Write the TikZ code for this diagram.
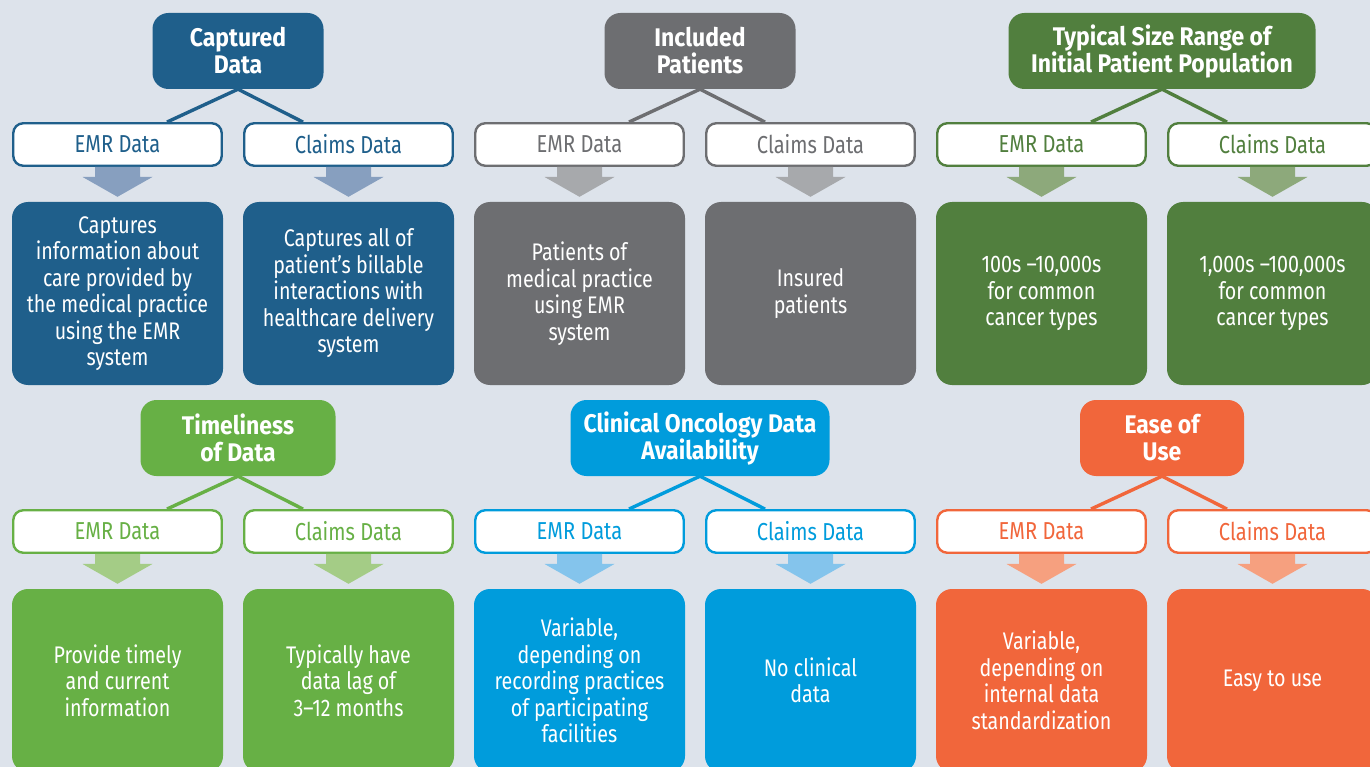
\documentclass[tikz,border=0pt]{standalone}
\usepackage{fontspec}
\setmainfont{Fira Sans}[FakeStretch=0.82]
\newfontfamily\headFont{Fira Sans}[FakeStretch=0.9]
\usetikzlibrary{calc}
\definecolor{paper}{HTML}{DDE3EB}
\definecolor{capDark}{HTML}{1F5F8B}
\definecolor{capLight}{HTML}{879FBF}
\definecolor{incDark}{HTML}{6D6E71}
\definecolor{incLight}{HTML}{A7A9AC}
\definecolor{sizeDark}{HTML}{517F3E}
\definecolor{sizeLight}{HTML}{8DA97B}
\definecolor{timeDark}{HTML}{67B045}
\definecolor{timeLight}{HTML}{A4CC86}
\definecolor{oncDark}{HTML}{009CDC}
\definecolor{oncLight}{HTML}{84C4EC}
\definecolor{easeDark}{HTML}{F1663B}
\definecolor{easeLight}{HTML}{F6A07F}
%% Block arrow from a label box down to its content box.
\newcommand{\myArrow}[3]{%%
  \fill[#3] ($(#1.south)+(-22.5,0)$) -- ($(#1.south)+(-22.5,10)$)
  -- ($(#1.south)+(-35,10)$) -- ($(#2.north)+(0,-5)$)
  -- ($(#1.south)+(35,10)$) -- ($(#1.south)+(22.5,10)$)
  -- ($(#1.south)+(22.5,0)$) -- cycle;
}
%% One group: header, two data labels, two arrows, two content boxes.
\newcommand{\myGroup}[7]{%%
  %% Header box.
  \node[headStyle, fill=#1Dark, minimum width=#4] (#1Head) at (#2+226,#3+38) {#5};
  %% Data source labels.
  \node[labelStyle, draw=#1Dark, text=#1Dark] (#1Emr) at (#2+105.5,#3+131.5) {EMR Data};
  \node[labelStyle, draw=#1Dark, text=#1Dark] (#1Clm) at (#2+336.5,#3+131.5) {Claims Data};
  %% Content boxes.
  \node[infoStyle, fill=#1Dark] (#1EmrInfo) at (#2+105.5,#3+280.5) {#6};
  \node[infoStyle, fill=#1Dark] (#1ClmInfo) at (#2+336.5,#3+280.5) {#7};
  %% Connect the header to the labels.
  \draw[lineStyle, #1Dark] (#1Head.south) -- ([xshift=49.5pt]#1Emr.north);
  \draw[lineStyle, #1Dark] (#1Head.south) -- ([xshift=-45.5pt]#1Clm.north);
  %% Arrows down to the content.
  \myArrow{#1Emr}{#1EmrInfo}{#1Light}
  \myArrow{#1Clm}{#1ClmInfo}{#1Light}
}

\begin{document}
\begin{tikzpicture}[x=1pt,y=-1pt,%%
  lineStyle/.style={-,line width=3.4pt},%%
  headStyle/.style={rounded corners=16pt,minimum height=76pt,inner sep=0pt,
    align=center,text=white,font=\headFont\bfseries\fontsize{25.5}{27}\selectfont},%%
  labelStyle/.style={rounded corners=10pt,fill=white,line width=2.4pt,
    minimum width=208.5pt,minimum height=42.5pt,inner sep=0pt,
    font=\fontsize{24.5}{26.5}\selectfont},%%
  infoStyle/.style={rounded corners=16pt,minimum width=211pt,minimum height=183pt,
    inner sep=0pt,align=center,text=white,font=\fontsize{24}{26.5}\selectfont}
]
%%
%%
\pgfmathsetmacro{\rowTop}{13}
\pgfmathsetmacro{\rowBottom}{400}
\fill[paper] (0,0) rectangle (1370,767);
\useasboundingbox (0,0) rectangle (1370,767);
\clip (0,0) rectangle (1370,767);
%%
%% Top row.
\myGroup{cap}{12}{\rowTop}{171}{Captured\\Data}%%
  {Captures\\information about\\care provided by\\the medical practice\\using the EMR\\system}%%
  {Captures all of\\patient’s billable\\interactions with\\healthcare delivery\\system}
\myGroup{inc}{474}{\rowTop}{191}{Included\\Patients}%%
  {Patients of\\medical practice\\using EMR\\system}%%
  {Insured\\patients}
\myGroup{size}{936}{\rowTop}{307}{Typical Size Range of\\Initial Patient Population}%%
  {100s –10,000s\\for common\\cancer types}%%
  {1,000s –100,000s\\for common\\cancer types}
%%
%% Bottom row.
\myGroup{time}{12}{\rowBottom}{195}{Timeliness\\of Data}%%
  {Provide timely\\and current\\information}%%
  {Typically have\\data lag of\\3–12 months}
\myGroup{onc}{474}{\rowBottom}{259}{Clinical Oncology Data\\Availability}%%
  {Variable,\\depending on\\recording practices\\of participating\\facilities}%%
  {No clinical\\data}
\myGroup{ease}{936}{\rowBottom}{164}{Ease of\\Use}%%
  {Variable,\\depending on\\internal data\\standardization}%%
  {Easy to use}

\end{tikzpicture}
\end{document}
